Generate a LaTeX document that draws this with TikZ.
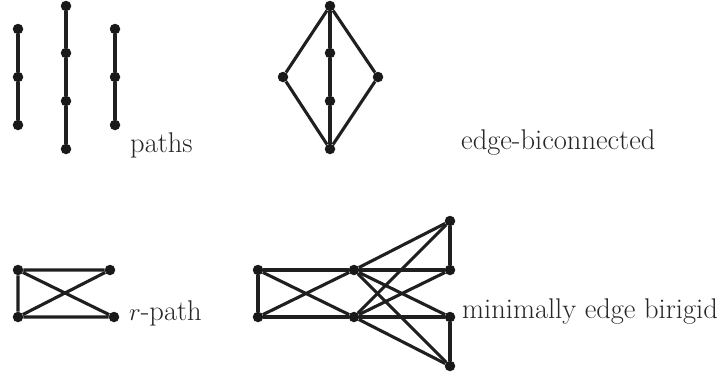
\documentclass[tikz,border=0pt]{standalone}
\begin{document}
\begin{tikzpicture}[x=1pt,y=-1pt,
  vtx/.style={circle,fill=black!90,inner sep=0pt,minimum size=10.5pt},
  edge/.style={line width=3.1pt,draw=black!88},
  lbl/.style={anchor=base west,inner sep=0pt,font=\fontsize{28.5}{32}\selectfont,text=black!85}]
\useasboundingbox (0,0) rectangle (724,375);
% paths
\node[vtx] (p1a) at (18,29) {};
\node[vtx] (p1b) at (18,77) {};
\node[vtx] (p1c) at (18,125) {};
\node[vtx] (p2a) at (66,6) {};
\node[vtx] (p2b) at (66,53) {};
\node[vtx] (p2c) at (66,101) {};
\node[vtx] (p2d) at (66,149) {};
\node[vtx] (p3a) at (115,29) {};
\node[vtx] (p3b) at (115,77) {};
\node[vtx] (p3c) at (115,125) {};
\draw[edge] (p1a) -- (p1b) -- (p1c);
\draw[edge] (p2a) -- (p2b) -- (p2c) -- (p2d);
\draw[edge] (p3a) -- (p3b) -- (p3c);
\node[lbl] (lp) at (130,152) {paths};
% edge-biconnected
\node[vtx] (bt) at (330,6) {};
\node[vtx] (bl) at (283,77) {};
\node[vtx] (br) at (378,77) {};
\node[vtx] (bm1) at (330,53) {};
\node[vtx] (bm2) at (330,101) {};
\node[vtx] (bb) at (330,149) {};
\draw[edge] (bt) -- (bl) -- (bb) -- (br) -- (bt);
\draw[edge] (bt) -- (bm1) -- (bm2) -- (bb);
\node[lbl] (lb) at (461,149) {edge-biconnected};
% r-path
\node[vtx] (rtl) at (18,270) {};
\node[vtx] (rtr) at (110,270) {};
\node[vtx] (rbl) at (18,317) {};
\node[vtx] (rbr) at (114,317) {};
\draw[edge] (rtr) -- (rtl) -- (rbl) -- (rbr) -- (rtl);
\draw[edge] (rbl) -- (rtr);
\node[lbl] (lr) at (129,320) {$r$-path};
% minimally edge birigid
\node[vtx] (mA) at (258,270) {};
\node[vtx] (mB) at (258,317) {};
\node[vtx] (mC) at (354,270) {};
\node[vtx] (mD) at (354,317) {};
\node[vtx] (mE) at (450,221) {};
\node[vtx] (mF) at (450,270) {};
\node[vtx] (mG) at (450,317) {};
\node[vtx] (mH) at (450,366) {};
\draw[edge] (mA) -- (mC) -- (mF);
\draw[edge] (mB) -- (mD) -- (mG);
\draw[edge] (mA) -- (mB);
\draw[edge] (mA) -- (mD);
\draw[edge] (mB) -- (mC);
\draw[edge] (mC) -- (mE);
\draw[edge] (mD) -- (mE);
\draw[edge] (mE) -- (mF);
\draw[edge] (mD) -- (mF);
\draw[edge] (mC) -- (mG);
\draw[edge] (mC) -- (mH);
\draw[edge] (mD) -- (mH);
\draw[edge] (mG) -- (mH);
\node[lbl] (lm) at (462,318) {minimally edge birigid};
\end{tikzpicture}
\end{document}
